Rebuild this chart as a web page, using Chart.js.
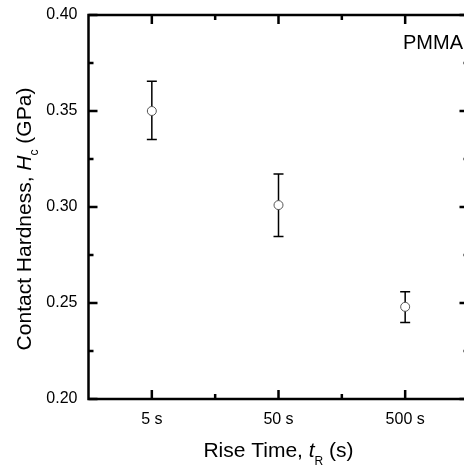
<!DOCTYPE html>
<html>
<head>
<meta charset="utf-8">
<script src="https://cdn.jsdelivr.net/npm/chart.js@4.4.1/dist/chart.umd.min.js"></script>
<style>
  html, body { margin: 0; padding: 0; background: #fff; }
  #wrap { width: 464px; height: 470px; overflow: hidden; position: relative; }
  canvas { display: block; }
</style>
</head>
<body>
<div id="wrap"><canvas id="chart" width="474" height="470"></canvas></div>
<script>
// Rise time categories and contact hardness values (GPa)
const riseTimes = ['5 s', '50 s', '500 s'];
const hardness = [0.350, 0.301, 0.248];
const errUpper = [0.3655, 0.3172, 0.2558];
const errLower = [0.3352, 0.2846, 0.2398];
const yTicks = [0.20, 0.25, 0.30, 0.35, 0.40];
const yMinorTicks = [0.225, 0.275, 0.325, 0.375];

const FONT = '"Liberation Sans", Arial, sans-serif';

// error bars behind the markers
const errorBars = {
  id: 'errorBars',
  beforeDatasetsDraw(chart) {
    const ctx = chart.ctx;
    const y = chart.scales.y;
    const meta = chart.getDatasetMeta(0);
    ctx.save();
    ctx.strokeStyle = '#000';
    ctx.lineWidth = 1.5;
    meta.data.forEach((pt, i) => {
      const top = y.getPixelForValue(errUpper[i]);
      const bot = y.getPixelForValue(errLower[i]);
      ctx.beginPath();
      ctx.moveTo(pt.x, top); ctx.lineTo(pt.x, bot);
      ctx.moveTo(pt.x - 5, top); ctx.lineTo(pt.x + 5, top);
      ctx.moveTo(pt.x - 5, bot); ctx.lineTo(pt.x + 5, bot);
      ctx.stroke();
    });
    ctx.restore();
  }
};

// frame, inward ticks, axis titles and the PMMA label
const frame = {
  id: 'frame',
  afterDraw(chart) {
    const ctx = chart.ctx;
    const a = chart.chartArea;
    const x = chart.scales.x;
    const y = chart.scales.y;
    ctx.save();
    ctx.strokeStyle = '#000';
    ctx.lineWidth = 2.5;
    ctx.strokeRect(a.left, a.top, a.right - a.left, a.bottom - a.top);

    ctx.beginPath();
    yTicks.forEach(v => {
      const py = y.getPixelForValue(v);
      ctx.moveTo(a.left, py); ctx.lineTo(a.left + 9, py);
      ctx.moveTo(a.right, py); ctx.lineTo(a.right - 9, py);
    });
    yMinorTicks.forEach(v => {
      const py = y.getPixelForValue(v);
      ctx.moveTo(a.left, py); ctx.lineTo(a.left + 5, py);
      ctx.moveTo(a.right, py); ctx.lineTo(a.right - 5, py);
    });
    riseTimes.forEach((c, i) => {
      const px = x.getPixelForValue(i);
      ctx.moveTo(px, a.bottom); ctx.lineTo(px, a.bottom - 9);
      ctx.moveTo(px, a.top); ctx.lineTo(px, a.top + 9);
      if (i < riseTimes.length - 1) {
        const mx = (px + x.getPixelForValue(i + 1)) / 2;
        ctx.moveTo(mx, a.bottom); ctx.lineTo(mx, a.bottom - 5);
        ctx.moveTo(mx, a.top); ctx.lineTo(mx, a.top + 5);
      }
    });
    ctx.stroke();

    ctx.fillStyle = '#000';
    ctx.textBaseline = 'alphabetic';

    // x title: Rise Time, tR (s)
    const xParts = [
      ['Rise Time, ', 'normal 21px ' + FONT, 0],
      ['t', 'italic 21px ' + FONT, 0],
      ['R', 'normal 12px ' + FONT, 8],
      [' (s)', 'normal 21px ' + FONT, 0]
    ];
    drawParts(ctx, xParts, (a.left + a.right) / 2, 457);

    // y title: Contact Hardness, Hc (GPa)
    ctx.save();
    ctx.translate(31, 219);
    ctx.rotate(-Math.PI / 2);
    const yParts = [
      ['Contact Hardness, ', 'normal 21px ' + FONT, 0],
      ['H', 'italic 21px ' + FONT, 0],
      ['c', 'normal 12px ' + FONT, 7],
      [' (GPa)', 'normal 21px ' + FONT, 0]
    ];
    drawParts(ctx, yParts, 0, 0);
    ctx.restore();

    ctx.font = 'normal 20px ' + FONT;
    ctx.textAlign = 'right';
    ctx.fillText('PMMA', 463, 49);
    ctx.restore();
  }
};

function drawParts(ctx, parts, cx, baseY) {
  let total = 0;
  parts.forEach(p => { ctx.font = p[1]; total += ctx.measureText(p[0]).width; });
  let px = cx - total / 2;
  ctx.textAlign = 'left';
  parts.forEach(p => {
    ctx.font = p[1];
    ctx.fillText(p[0], px, baseY + p[2]);
    px += ctx.measureText(p[0]).width;
  });
}

new Chart(document.getElementById('chart'), {
  type: 'line',
  data: {
    labels: riseTimes,
    datasets: [{
      data: hardness,
      showLine: false,
      pointRadius: 4.5,
      pointHoverRadius: 4.5,
      pointBackgroundColor: '#fff',
      pointBorderColor: '#555',
      pointBorderWidth: 1
    }]
  },
  options: {
    responsive: false,
    animation: false,
    layout: { padding: { top: 15, right: 3, left: 0, bottom: 0 } },
    plugins: { legend: { display: false }, tooltip: { enabled: false } },
    scales: {
      x: {
        type: 'category',
        offset: true,
        grid: { display: false, drawTicks: false },
        border: { display: false },
        ticks: { color: '#000', padding: 11, font: { family: FONT, size: 16 } },
        afterFit(scale) { scale.height = 71; scale.paddingLeft = 0; scale.paddingRight = 0; }
      },
      y: {
        min: 0.2,
        max: 0.4,
        grid: { display: false, drawTicks: false },
        border: { display: false },
        afterBuildTicks(scale) { scale.ticks = yTicks.map(v => ({ value: v })); },
        ticks: {
          color: '#000',
          padding: 11,
          font: { family: FONT, size: 16 },
          callback: v => v.toFixed(2)
        },
        afterFit(scale) { scale.width = 88.5; scale.paddingTop = 0; scale.paddingBottom = 0; }
      }
    }
  },
  plugins: [errorBars, frame]
});
</script>
</body>
</html>
